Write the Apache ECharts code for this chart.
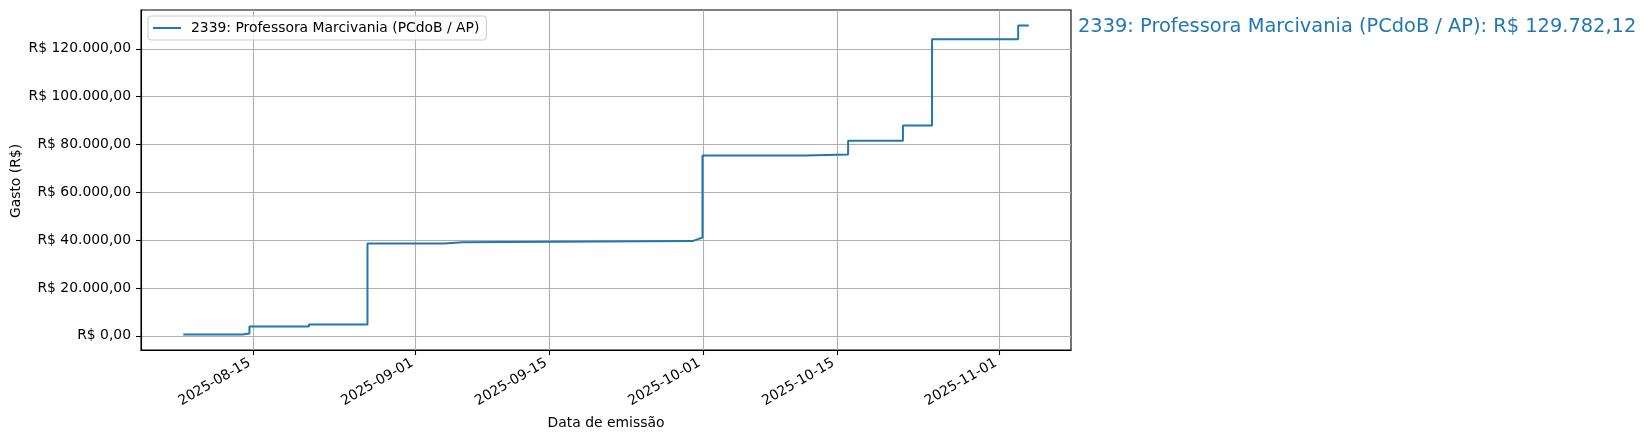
<!DOCTYPE html>
<html>
<head>
<meta charset="utf-8">
<script src="https://cdn.jsdelivr.net/npm/echarts@6/dist/echarts.min.js"></script>
<style>
html,body{margin:0;padding:0;background:#fff;}
#chart{width:1650px;height:441px;}
</style>
</head>
<body>
<div id="chart"></div>
<script>
// ---- data ----
const seriesName = '2339: Professora Marcivania (PCdoB / AP)';
const totalLabel = 'R$ 129.782,12';
const dates = [
  '2025-08-07 17:00', '2025-08-13 21:30', '2025-08-14 15:00', '2025-08-20 20:00',
  '2025-08-26 23:00', '2025-09-04 00:00', '2025-09-05 21:00', '2025-09-29 22:00',
  '2025-09-30 12:00', '2025-09-30 23:15', '2025-10-11 15:00', '2025-10-16 04:30',
  '2025-10-21 22:00', '2025-10-24 23:00', '2025-11-02 23:00', '2025-11-04 01:30'
];
const cumulative = [
  540, 960, 3890, 4730,
  38620, 39170, 39620, 40450,
  41130, 75400, 75800, 81590,
  87990, 123980, 129782.12, 129782.12
];
const xTickDates = ['2025-08-15', '2025-09-01', '2025-09-15', '2025-10-01', '2025-10-15', '2025-11-01'];
const yTickValues = [0, 20000, 40000, 60000, 80000, 100000, 120000];

// ---- helpers ----
function parseLocal(s) {
  const m = s.match(/(\d+)-(\d+)-(\d+)(?:[ T](\d+):(\d+))?/);
  return new Date(+m[1], +m[2] - 1, +m[3], m[4] ? +m[4] : 0, m[5] ? +m[5] : 0).getTime();
}
function brl(v) {
  const neg = v < 0;
  v = Math.abs(v);
  const parts = v.toFixed(2).split('.');
  const intPart = parts[0].replace(/\B(?=(\d{3})+(?!\d))/g, '.');
  return 'R$ ' + (neg ? '-' : '') + intPart + ',' + parts[1];
}
function pad(n) { return (n < 10 ? '0' : '') + n; }

const xs = dates.map(parseLocal);
const data = xs.map((x, i) => [x, cumulative[i]]);
const xMinD = Math.min(...xs), xMaxD = Math.max(...xs);
const yMinD = Math.min(...cumulative), yMaxD = Math.max(...cumulative);
const xm = (xMaxD - xMinD) * 0.05, ym = (yMaxD - yMinD) * 0.05;
const xTicks = xTickDates.map(parseLocal);

const FONT = 'DejaVu Sans';
const chart = echarts.init(document.getElementById('chart'), null, {renderer: 'canvas'});
chart.setOption({
  animation: false,
  backgroundColor: '#ffffff',
  grid: {
    left: 141, right: 579, top: 10, bottom: 91,
    show: true, borderColor: '#000000', borderWidth: 1.1, backgroundColor: 'transparent'
  },
  legend: {
    show: true,
    left: 148, top: 16,
    orient: 'horizontal',
    padding: [5, 7, 5, 5],
    backgroundColor: 'rgba(255,255,255,0.8)',
    borderColor: '#cccccc', borderWidth: 1, borderRadius: 3,
    itemWidth: 28, itemHeight: 2,
    icon: 'rect',
    textStyle: {fontFamily: FONT, fontSize: 13.9, color: '#000', padding: [0, 0, 0, 5]},
    data: [seriesName]
  },
  xAxis: {
    type: 'value',
    scale: true,
    min: xMinD - xm, max: xMaxD + xm,
    axisLine: {show: true, onZero: false, lineStyle: {color: '#000', width: 1.1}},
    axisTick: {show: true, length: 5, lineStyle: {color: '#000', width: 1.1}, customValues: xTicks},
    axisLabel: {
      customValues: xTicks, rotate: 30, margin: 10, padding: [0, 4, 0, 0],
      fontFamily: FONT, fontSize: 13.9, color: '#000',
      formatter: function (v) { const d = new Date(v); return d.getFullYear() + '-' + pad(d.getMonth() + 1) + '-' + pad(d.getDate()); }
    },
    splitLine: {show: true, lineStyle: {color: '#b0b0b0', width: 1.1}}
  },
  yAxis: {
    type: 'value',
    min: yMinD - ym, max: yMaxD + ym,
    axisLine: {show: true, onZero: false, lineStyle: {color: '#000', width: 1.1}},
    axisTick: {show: true, length: 5, lineStyle: {color: '#000', width: 1.1}, customValues: yTickValues},
    axisLabel: {
      customValues: yTickValues, margin: 10,
      fontFamily: FONT, fontSize: 13.9, color: '#000',
      formatter: function (v) { return brl(v); }
    },
    splitLine: {show: true, lineStyle: {color: '#b0b0b0', width: 1.1}}
  },
  series: [{
    name: seriesName,
    type: 'line',
    step: 'end',
    data: data,
    showSymbol: false,
    symbol: 'none',
    lineStyle: {color: '#1f77b4', width: 2},
    itemStyle: {color: '#1f77b4'},
    z: 3
  }],
  graphic: [
    {type: 'text', x: 606, y: 423, style: {text: 'Data de emissão', fontFamily: FONT, fontSize: 13.9, fill: '#000', textAlign: 'center', textVerticalAlign: 'middle'}},
    {type: 'text', x: 16, y: 181, rotation: Math.PI / 2, style: {text: 'Gasto (R$)', fontFamily: FONT, fontSize: 13.9, fill: '#000', textAlign: 'center', textVerticalAlign: 'middle'}},
    {type: 'text', x: 1078, y: 27, style: {text: seriesName + ': ' + totalLabel, fontFamily: FONT, fontSize: 19.4, fill: '#1f77b4', textAlign: 'left', textVerticalAlign: 'middle'}}
  ]
});
</script>
</body>
</html>
